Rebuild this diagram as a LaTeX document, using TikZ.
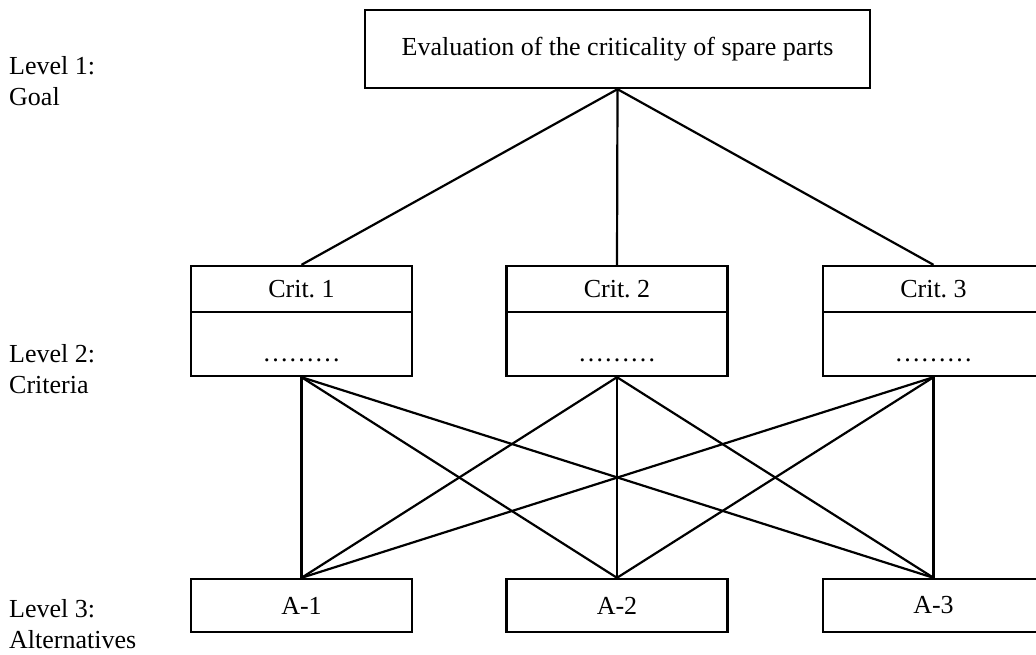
\documentclass[tikz,border=0pt]{standalone}
\usepackage{fontspec}
\setmainfont{Liberation Serif}
\begin{document}
\begin{tikzpicture}[x=1pt,y=-1pt,
  box/.style={draw,line width=2.4pt,minimum width=221pt,inner sep=0pt,anchor=center},
  conn/.style={line width=2.2pt},
  lbl/.style={anchor=west,align=left,inner sep=0pt},
  every node/.append style={font=\fontsize{26}{31}\selectfont}]
\clip (0,0) rectangle (1036,654);
\fill[white] (0,0) rectangle (1036,654);
% goal
\node[box,minimum width=505pt,minimum height=78pt] (goal) at (617.5,49) {Evaluation of the criticality of spare parts};
% criteria and alternatives
\foreach \i/\x in {1/301.5,2/617,3/933.5}{
  \node[box,minimum height=46pt] (c\i) at (\x,289) {Crit.~\i};
  \node[box,minimum height=64pt] (d\i) at (\x,344) {};
  \node[inner sep=0pt] (t\i) at (\x,360) {………};
  \node[box,minimum height=53pt] (a\i) at (\x,605.5) {A-\i};
}
% connectors
\foreach \i in {1,2,3}{
  \draw[conn] (goal.south) -- (c\i.north);
  \foreach \j in {1,2,3}{
    \draw[conn] (d\i.south) -- (a\j.north);
  }
}
% labels
\node[lbl] (l1) at (9,81) {Level 1:\\Goal};
\node[lbl] (l2) at (9,369) {Level 2:\\Criteria};
\node[lbl] (l3) at (9,624) {Level 3:\\Alternatives};
\end{tikzpicture}
\end{document}
